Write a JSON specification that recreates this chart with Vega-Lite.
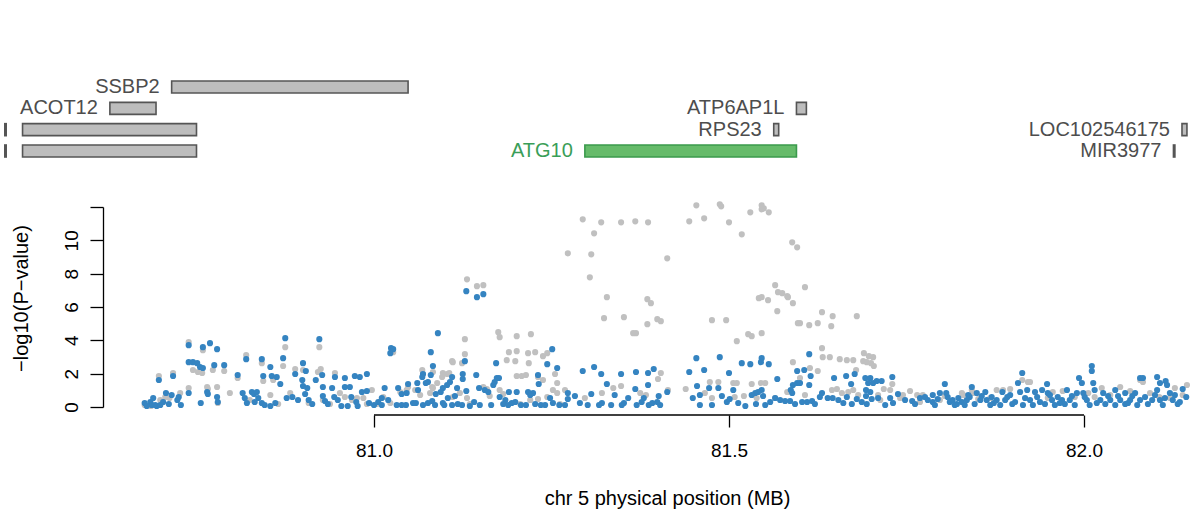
{
  "$schema": "https://vega.github.io/schema/vega-lite/v6.json",
  "width": 1084,
  "height": 200,
  "autosize": {"type": "none"},
  "padding": {"left": 110, "top": 207, "right": 0, "bottom": 105},
  "background": "white",
  "config": {
    "view": {"stroke": null},
    "font": "Liberation Sans",
    "axis": {"grid": false, "labelColor": "black", "titleColor": "black", "tickColor": "black", "domainColor": "black", "labelFont": "Liberation Sans", "titleFont": "Liberation Sans", "titleFontWeight": "normal"}
  },
  "layer": [
    {
      "data": {"values": [
        {"gene": "SSBP2", "start": 80.715, "end": 81.048, "row": 1},
        {"gene": "ACOT12", "start": 80.628, "end": 80.693, "row": 2},
        {"gene": "ATP6AP1L", "start": 81.595, "end": 81.609, "row": 2},
        {"gene": "", "start": 80.505, "end": 80.750, "row": 3},
        {"gene": "RPS23", "start": 81.563, "end": 81.570, "row": 3},
        {"gene": "LOC102546175", "start": 82.138, "end": 82.145, "row": 3},
        {"gene": "", "start": 80.505, "end": 80.750, "row": 4},
        {"gene": "ATG10", "start": 81.297, "end": 81.595, "row": 4},
        {"gene": "MIR3977", "start": 82.126, "end": 82.128, "row": 4},
        {"gene": "", "start": 80.480, "end": 80.482, "row": 3},
        {"gene": "", "start": 80.480, "end": 80.482, "row": 4}
      ]},
      "layer": [
        {
          "mark": {"type": "bar", "orient": "horizontal", "size": 12, "strokeWidth": 1.6},
          "encoding": {
            "x": {"field": "start", "type": "quantitative"},
            "x2": {"field": "end"},
            "y": {"field": "row", "type": "quantitative", "scale": {"domain": [1, 4], "range": [-120, -56], "padding": 0, "nice": false, "zero": false}, "axis": null},
            "fill": {"condition": {"test": "datum.gene === 'ATG10'", "value": "#66bb6a"}, "value": "#bdbdbd"},
            "stroke": {"condition": {"test": "datum.gene === 'ATG10'", "value": "#3b9a4c"}, "value": "#555555"}
          }
        },
        {
          "mark": {"type": "text", "align": "right", "baseline": "middle", "dx": -12, "fontSize": 20, "font": "Liberation Sans"},
          "encoding": {
            "x": {"field": "start", "type": "quantitative"},
            "y": {"field": "row", "type": "quantitative", "axis": null},
            "text": {"field": "gene"},
            "color": {"condition": {"test": "datum.gene === 'ATG10'", "value": "#3a9e58"}, "value": "#4d4d4d"}
          }
        }
      ]
    },
    {
      "layer": [
        {
          "data": {"values": [
{"pos":80.677,"logp":0.12,"cond":"no"},{"pos":80.686,"logp":0.06,"cond":"no"},{"pos":80.697,"logp":1.86,"cond":"no"},{"pos":80.717,"logp":2.04,"cond":"no"},{"pos":80.706,"logp":0.60,"cond":"no"},{"pos":80.712,"logp":0.54,"cond":"no"},{"pos":80.739,"logp":3.89,"cond":"no"},{"pos":80.739,"logp":1.14,"cond":"no"},{"pos":80.745,"logp":2.22,"cond":"no"},{"pos":80.752,"logp":2.10,"cond":"no"},{"pos":80.758,"logp":2.04,"cond":"no"},{"pos":80.759,"logp":3.41,"cond":"no"},{"pos":80.765,"logp":1.20,"cond":"no"},{"pos":80.766,"logp":1.08,"cond":"no"},{"pos":80.773,"logp":2.22,"cond":"no"},{"pos":80.779,"logp":1.20,"cond":"no"},{"pos":80.789,"logp":2.16,"cond":"no"},{"pos":80.780,"logp":0.24,"cond":"no"},{"pos":80.808,"logp":1.74,"cond":"no"},{"pos":80.820,"logp":3.11,"cond":"no"},{"pos":80.842,"logp":2.63,"cond":"no"},{"pos":80.844,"logp":1.56,"cond":"no"},{"pos":80.858,"logp":1.62,"cond":"no"},{"pos":80.872,"logp":2.46,"cond":"no"},{"pos":80.875,"logp":3.59,"cond":"no"},{"pos":80.889,"logp":2.28,"cond":"no"},{"pos":80.900,"logp":2.22,"cond":"no"},{"pos":80.908,"logp":0.24,"cond":"no"},{"pos":80.925,"logp":2.28,"cond":"no"},{"pos":80.921,"logp":2.10,"cond":"no"},{"pos":80.923,"logp":3.59,"cond":"no"},{"pos":80.928,"logp":0.42,"cond":"no"},{"pos":80.945,"logp":2.04,"cond":"no"},{"pos":80.959,"logp":0.60,"cond":"no"},{"pos":80.976,"logp":0.54,"cond":"no"},{"pos":80.985,"logp":0.54,"cond":"no"},{"pos":81.027,"logp":3.29,"cond":"no"},{"pos":81.013,"logp":0.60,"cond":"no"},{"pos":81.023,"logp":0.24,"cond":"no"},{"pos":81.048,"logp":1.20,"cond":"no"},{"pos":81.046,"logp":1.02,"cond":"no"},{"pos":81.068,"logp":2.22,"cond":"no"},{"pos":81.069,"logp":1.98,"cond":"no"},{"pos":81.079,"logp":0.84,"cond":"no"},{"pos":81.082,"logp":1.20,"cond":"no"},{"pos":81.089,"logp":1.44,"cond":"no"},{"pos":81.097,"logp":2.04,"cond":"no"},{"pos":81.106,"logp":2.04,"cond":"no"},{"pos":81.110,"logp":2.75,"cond":"no"},{"pos":81.131,"logp":7.66,"cond":"no"},{"pos":81.145,"logp":7.25,"cond":"no"},{"pos":81.154,"logp":7.31,"cond":"no"},{"pos":80.699,"logp":0.42,"cond":"no"},{"pos":80.825,"logp":0.42,"cond":"no"},{"pos":80.865,"logp":0.18,"cond":"no"},{"pos":80.938,"logp":0.18,"cond":"no"},{"pos":80.969,"logp":0.42,"cond":"no"},{"pos":80.990,"logp":0.18,"cond":"no"},{"pos":81.004,"logp":0.18,"cond":"no"},
{"pos":80.727,"logp":0.84,"cond":"no"},{"pos":80.797,"logp":0.84,"cond":"no"},{"pos":80.854,"logp":0.72,"cond":"no"},{"pos":80.882,"logp":0.84,"cond":"no"},{"pos":80.952,"logp":0.84,"cond":"no"},{"pos":80.997,"logp":1.02,"cond":"no"},{"pos":81.037,"logp":0.90,"cond":"no"},{"pos":81.065,"logp":0.72,"cond":"no"},{"pos":81.121,"logp":0.84,"cond":"no"},{"pos":81.163,"logp":0.66,"cond":"no"},{"pos":81.220,"logp":0.42,"cond":"no"},{"pos":81.269,"logp":1.02,"cond":"no"},{"pos":81.297,"logp":0.54,"cond":"no"},{"pos":81.337,"logp":1.14,"cond":"no"},{"pos":81.375,"logp":0.84,"cond":"no"},{"pos":81.414,"logp":1.02,"cond":"no"},
{"pos":81.128,"logp":4.07,"cond":"no"},{"pos":81.128,"logp":3.17,"cond":"no"},{"pos":81.175,"logp":4.49,"cond":"no"},{"pos":81.177,"logp":4.19,"cond":"no"},{"pos":81.201,"logp":4.25,"cond":"no"},{"pos":81.221,"logp":4.37,"cond":"no"},{"pos":81.190,"logp":3.29,"cond":"no"},{"pos":81.201,"logp":3.35,"cond":"no"},{"pos":81.217,"logp":3.23,"cond":"no"},{"pos":81.227,"logp":3.29,"cond":"no"},{"pos":81.238,"logp":3.05,"cond":"no"},{"pos":81.244,"logp":3.23,"cond":"no"},{"pos":81.187,"logp":2.81,"cond":"no"},{"pos":81.199,"logp":2.75,"cond":"no"},{"pos":81.218,"logp":2.63,"cond":"no"},{"pos":81.111,"logp":2.69,"cond":"no"},{"pos":81.124,"logp":2.63,"cond":"no"},{"pos":81.103,"logp":1.98,"cond":"no"},{"pos":81.096,"logp":1.80,"cond":"no"},{"pos":81.201,"logp":1.86,"cond":"no"},{"pos":81.208,"logp":1.86,"cond":"no"},{"pos":81.214,"logp":1.92,"cond":"no"},{"pos":81.255,"logp":1.98,"cond":"no"},{"pos":81.231,"logp":1.80,"cond":"no"},{"pos":81.238,"logp":1.62,"cond":"no"},{"pos":81.258,"logp":1.44,"cond":"no"},{"pos":81.252,"logp":1.02,"cond":"no"},{"pos":81.258,"logp":0.84,"cond":"no"},{"pos":81.294,"logp":11.26,"cond":"no"},{"pos":81.320,"logp":11.08,"cond":"no"},{"pos":81.348,"logp":11.08,"cond":"no"},{"pos":81.368,"logp":11.14,"cond":"no"},{"pos":81.386,"logp":11.08,"cond":"no"},{"pos":81.310,"logp":10.42,"cond":"no"},{"pos":81.273,"logp":9.22,"cond":"no"},{"pos":81.306,"logp":9.16,"cond":"no"},{"pos":81.413,"logp":8.92,"cond":"no"},{"pos":81.304,"logp":7.78,"cond":"no"},{"pos":81.328,"logp":6.59,"cond":"no"},{"pos":81.385,"logp":6.47,"cond":"no"},{"pos":81.390,"logp":6.23,"cond":"no"},{"pos":81.324,"logp":5.33,"cond":"no"},{"pos":81.352,"logp":5.39,"cond":"no"},{"pos":81.399,"logp":5.27,"cond":"no"},{"pos":81.404,"logp":5.15,"cond":"no"},{"pos":81.385,"logp":4.97,"cond":"no"},{"pos":81.365,"logp":4.43,"cond":"no"},{"pos":81.369,"logp":4.43,"cond":"no"},{"pos":81.321,"logp":0.84,"cond":"no"},{"pos":81.348,"logp":1.26,"cond":"no"},{"pos":81.404,"logp":2.04,"cond":"no"},{"pos":81.400,"logp":1.68,"cond":"no"},{"pos":81.383,"logp":0.72,"cond":"no"},{"pos":81.058,"logp":1.02,"cond":"no"},{"pos":81.083,"logp":2.10,"cond":"no"},{"pos":81.083,"logp":1.14,"cond":"no"},{"pos":81.154,"logp":1.20,"cond":"no"},{"pos":81.159,"logp":1.08,"cond":"no"},{"pos":81.177,"logp":1.02,"cond":"no"},{"pos":81.182,"logp":0.78,"cond":"no"},{"pos":81.111,"logp":0.60,"cond":"no"},{"pos":81.131,"logp":0.54,"cond":"no"},{"pos":81.231,"logp":0.48,"cond":"no"},{"pos":81.244,"logp":0.60,"cond":"no"},{"pos":81.135,"logp":0.18,"cond":"no"},{"pos":81.206,"logp":0.18,"cond":"no"},{"pos":81.262,"logp":0.18,"cond":"no"},
{"pos":81.454,"logp":12.10,"cond":"no"},{"pos":81.487,"logp":12.16,"cond":"no"},{"pos":81.489,"logp":12.04,"cond":"no"},{"pos":81.546,"logp":12.10,"cond":"no"},{"pos":81.546,"logp":11.86,"cond":"no"},{"pos":81.549,"logp":11.92,"cond":"no"},{"pos":81.556,"logp":11.68,"cond":"no"},{"pos":81.530,"logp":11.68,"cond":"no"},{"pos":81.444,"logp":11.14,"cond":"no"},{"pos":81.465,"logp":11.32,"cond":"no"},{"pos":81.500,"logp":11.08,"cond":"no"},{"pos":81.518,"logp":10.36,"cond":"no"},{"pos":81.589,"logp":9.88,"cond":"no"},{"pos":81.596,"logp":9.58,"cond":"no"},{"pos":81.565,"logp":7.31,"cond":"no"},{"pos":81.607,"logp":7.19,"cond":"no"},{"pos":81.569,"logp":6.89,"cond":"no"},{"pos":81.575,"logp":6.83,"cond":"no"},{"pos":81.582,"logp":6.65,"cond":"no"},{"pos":81.583,"logp":6.59,"cond":"no"},{"pos":81.590,"logp":6.23,"cond":"no"},{"pos":81.542,"logp":6.53,"cond":"no"},{"pos":81.546,"logp":6.59,"cond":"no"},{"pos":81.555,"logp":6.41,"cond":"no"},{"pos":81.568,"logp":5.75,"cond":"no"},{"pos":81.631,"logp":5.69,"cond":"no"},{"pos":81.646,"logp":5.45,"cond":"no"},{"pos":81.680,"logp":5.45,"cond":"no"},{"pos":81.476,"logp":5.21,"cond":"no"},{"pos":81.496,"logp":5.21,"cond":"no"},{"pos":81.597,"logp":5.03,"cond":"no"},{"pos":81.600,"logp":5.03,"cond":"no"},{"pos":81.613,"logp":4.91,"cond":"no"},{"pos":81.625,"logp":5.03,"cond":"no"},{"pos":81.644,"logp":4.85,"cond":"no"},{"pos":81.527,"logp":4.37,"cond":"no"},{"pos":81.532,"logp":4.25,"cond":"no"},{"pos":81.546,"logp":4.43,"cond":"no"},{"pos":81.511,"logp":3.95,"cond":"no"},{"pos":81.631,"logp":3.53,"cond":"no"},{"pos":81.632,"logp":2.99,"cond":"no"},{"pos":81.642,"logp":2.99,"cond":"no"},{"pos":81.656,"logp":2.87,"cond":"no"},{"pos":81.666,"logp":2.81,"cond":"no"},{"pos":81.675,"logp":2.81,"cond":"no"},{"pos":81.690,"logp":3.23,"cond":"no"},{"pos":81.697,"logp":3.05,"cond":"no"},{"pos":81.703,"logp":2.99,"cond":"no"},{"pos":81.689,"logp":2.75,"cond":"no"},{"pos":81.694,"logp":2.69,"cond":"no"},{"pos":81.700,"logp":2.63,"cond":"no"},{"pos":81.704,"logp":2.46,"cond":"no"},{"pos":81.590,"logp":2.69,"cond":"no"},{"pos":81.614,"logp":2.34,"cond":"no"},{"pos":81.473,"logp":1.50,"cond":"no"},{"pos":81.485,"logp":1.50,"cond":"no"},{"pos":81.506,"logp":1.44,"cond":"no"},{"pos":81.511,"logp":1.44,"cond":"no"},{"pos":81.532,"logp":1.38,"cond":"no"},{"pos":81.545,"logp":1.44,"cond":"no"},{"pos":81.551,"logp":1.44,"cond":"no"},{"pos":81.645,"logp":1.02,"cond":"no"},{"pos":81.652,"logp":1.08,"cond":"no"},{"pos":81.668,"logp":0.90,"cond":"no"},{"pos":81.675,"logp":1.02,"cond":"no"},{"pos":81.730,"logp":1.38,"cond":"no"},{"pos":81.476,"logp":0.54,"cond":"no"},{"pos":81.508,"logp":0.60,"cond":"no"},{"pos":81.521,"logp":0.66,"cond":"no"},{"pos":81.565,"logp":0.54,"cond":"no"},{"pos":81.607,"logp":0.72,"cond":"no"},{"pos":81.713,"logp":0.42,"cond":"no"},{"pos":81.741,"logp":0.54,"cond":"no"},{"pos":81.769,"logp":0.30,"cond":"no"},{"pos":81.679,"logp":2.22,"cond":"no"},{"pos":81.600,"logp":1.74,"cond":"no"},{"pos":81.625,"logp":2.16,"cond":"no"},
{"pos":81.439,"logp":1.08,"cond":"no"},{"pos":81.466,"logp":0.84,"cond":"no"},{"pos":81.539,"logp":0.54,"cond":"no"},{"pos":81.582,"logp":0.90,"cond":"no"},{"pos":81.659,"logp":0.84,"cond":"no"},{"pos":81.682,"logp":0.72,"cond":"no"},{"pos":81.718,"logp":1.08,"cond":"no"},{"pos":81.755,"logp":0.96,"cond":"no"},
{"pos":82.079,"logp":1.62,"cond":"no"},{"pos":82.083,"logp":1.50,"cond":"no"},{"pos":81.913,"logp":1.62,"cond":"no"},{"pos":81.924,"logp":1.50,"cond":"no"},{"pos":82.107,"logp":0.54,"cond":"no"},{"pos":82.121,"logp":0.54,"cond":"no"},{"pos":82.139,"logp":0.72,"cond":"no"},{"pos":81.710,"logp":0.72,"cond":"no"},{"pos":81.727,"logp":1.02,"cond":"no"},{"pos":81.745,"logp":0.72,"cond":"no"},{"pos":81.765,"logp":0.72,"cond":"no"},{"pos":81.773,"logp":0.72,"cond":"no"},{"pos":81.830,"logp":0.72,"cond":"no"},{"pos":81.842,"logp":1.02,"cond":"no"},{"pos":81.868,"logp":0.54,"cond":"no"},{"pos":81.886,"logp":1.02,"cond":"no"},{"pos":82.051,"logp":1.20,"cond":"no"},{"pos":81.828,"logp":0.84,"cond":"no"},{"pos":81.844,"logp":0.84,"cond":"no"},{"pos":81.877,"logp":1.02,"cond":"no"},{"pos":81.921,"logp":1.50,"cond":"no"},{"pos":82.037,"logp":0.72,"cond":"no"},{"pos":82.106,"logp":0.60,"cond":"no"},{"pos":81.949,"logp":0.54,"cond":"no"},{"pos":81.987,"logp":0.60,"cond":"no"},{"pos":82.015,"logp":0.60,"cond":"no"},{"pos":81.797,"logp":0.42,"cond":"no"},
{"pos":81.804,"logp":0.66,"cond":"no"},{"pos":81.851,"logp":0.48,"cond":"no"},{"pos":81.896,"logp":1.08,"cond":"no"},{"pos":81.956,"logp":0.90,"cond":"no"},{"pos":81.970,"logp":0.96,"cond":"no"},{"pos":82.006,"logp":0.84,"cond":"no"},{"pos":82.025,"logp":1.14,"cond":"no"},{"pos":82.065,"logp":0.96,"cond":"no"},{"pos":82.093,"logp":0.84,"cond":"no"},{"pos":82.128,"logp":1.14,"cond":"no"},{"pos":82.145,"logp":1.32,"cond":"no"},
{"pos":80.677,"logp":0.24,"cond":"yes"},{"pos":80.685,"logp":0.30,"cond":"yes"},{"pos":80.689,"logp":0.54,"cond":"yes"},{"pos":80.687,"logp":0.12,"cond":"yes"},{"pos":80.692,"logp":0.12,"cond":"yes"},{"pos":80.697,"logp":1.62,"cond":"yes"},{"pos":80.703,"logp":0.30,"cond":"yes"},{"pos":80.707,"logp":0.84,"cond":"yes"},{"pos":80.711,"logp":0.18,"cond":"yes"},{"pos":80.715,"logp":0.72,"cond":"yes"},{"pos":80.717,"logp":1.86,"cond":"yes"},{"pos":80.723,"logp":0.42,"cond":"yes"},{"pos":80.725,"logp":0.60,"cond":"yes"},{"pos":80.728,"logp":0.12,"cond":"yes"},{"pos":80.739,"logp":3.71,"cond":"yes"},{"pos":80.739,"logp":0.84,"cond":"yes"},{"pos":80.739,"logp":2.69,"cond":"yes"},{"pos":80.745,"logp":2.69,"cond":"yes"},{"pos":80.751,"logp":2.63,"cond":"yes"},{"pos":80.755,"logp":2.40,"cond":"yes"},{"pos":80.759,"logp":2.34,"cond":"yes"},{"pos":80.759,"logp":3.59,"cond":"yes"},{"pos":80.769,"logp":3.83,"cond":"yes"},{"pos":80.779,"logp":3.47,"cond":"yes"},{"pos":80.775,"logp":2.51,"cond":"yes"},{"pos":80.789,"logp":2.51,"cond":"yes"},{"pos":80.756,"logp":0.24,"cond":"yes"},{"pos":80.765,"logp":0.90,"cond":"yes"},{"pos":80.766,"logp":0.78,"cond":"yes"},{"pos":80.779,"logp":0.60,"cond":"yes"},{"pos":80.780,"logp":0.30,"cond":"yes"},{"pos":80.808,"logp":1.92,"cond":"yes"},{"pos":80.820,"logp":2.87,"cond":"yes"},{"pos":80.815,"logp":0.84,"cond":"yes"},{"pos":80.818,"logp":0.54,"cond":"yes"},{"pos":80.821,"logp":0.24,"cond":"yes"},{"pos":80.828,"logp":0.90,"cond":"yes"},{"pos":80.831,"logp":0.78,"cond":"yes"},{"pos":80.835,"logp":0.90,"cond":"yes"},{"pos":80.837,"logp":0.54,"cond":"yes"},{"pos":80.842,"logp":0.24,"cond":"yes"},{"pos":80.846,"logp":0.12,"cond":"yes"},{"pos":80.854,"logp":0.06,"cond":"yes"},{"pos":80.842,"logp":2.87,"cond":"yes"},{"pos":80.844,"logp":1.86,"cond":"yes"},{"pos":80.854,"logp":2.40,"cond":"yes"},{"pos":80.856,"logp":1.86,"cond":"yes"},{"pos":80.863,"logp":1.80,"cond":"yes"},{"pos":80.868,"logp":1.38,"cond":"yes"},{"pos":80.872,"logp":2.93,"cond":"yes"},{"pos":80.875,"logp":4.13,"cond":"yes"},{"pos":80.877,"logp":0.54,"cond":"yes"},{"pos":80.885,"logp":0.60,"cond":"yes"},{"pos":80.889,"logp":1.98,"cond":"yes"},{"pos":80.900,"logp":2.63,"cond":"yes"},{"pos":80.904,"logp":2.16,"cond":"yes"},{"pos":80.899,"logp":1.62,"cond":"yes"},{"pos":80.900,"logp":1.26,"cond":"yes"},{"pos":80.906,"logp":1.14,"cond":"yes"},{"pos":80.903,"logp":0.78,"cond":"yes"},{"pos":80.908,"logp":0.42,"cond":"yes"},{"pos":80.918,"logp":1.62,"cond":"yes"},{"pos":80.923,"logp":4.07,"cond":"yes"},{"pos":80.927,"logp":1.92,"cond":"yes"},{"pos":80.928,"logp":1.20,"cond":"yes"},{"pos":80.928,"logp":0.66,"cond":"yes"},{"pos":80.931,"logp":0.36,"cond":"yes"},{"pos":80.941,"logp":1.14,"cond":"yes"},{"pos":80.945,"logp":1.80,"cond":"yes"},{"pos":80.944,"logp":0.60,"cond":"yes"},{"pos":80.954,"logp":0.06,"cond":"yes"},{"pos":80.959,"logp":1.74,"cond":"yes"},{"pos":80.959,"logp":1.20,"cond":"yes"},{"pos":80.966,"logp":1.20,"cond":"yes"},{"pos":80.963,"logp":0.06,"cond":"yes"},{"pos":80.968,"logp":0.60,"cond":"yes"},{"pos":80.973,"logp":1.86,"cond":"yes"},{"pos":80.980,"logp":1.80,"cond":"yes"},{"pos":80.975,"logp":0.30,"cond":"yes"},{"pos":80.977,"logp":0.06,"cond":"yes"},{"pos":80.983,"logp":0.90,"cond":"yes"},{"pos":80.990,"logp":1.98,"cond":"yes"},{"pos":80.990,"logp":0.96,"cond":"yes"},{"pos":80.993,"logp":0.24,"cond":"yes"},{"pos":81.000,"logp":0.12,"cond":"yes"},{"pos":81.006,"logp":0.30,"cond":"yes"},{"pos":81.011,"logp":0.54,"cond":"yes"},{"pos":81.015,"logp":1.14,"cond":"yes"},{"pos":81.024,"logp":3.53,"cond":"yes"},{"pos":81.027,"logp":3.47,"cond":"yes"},{"pos":81.023,"logp":3.23,"cond":"yes"},{"pos":81.034,"logp":1.14,"cond":"yes"},{"pos":81.032,"logp":0.12,"cond":"yes"},{"pos":80.680,"logp":0.06,"cond":"yes"},{"pos":80.694,"logp":0.06,"cond":"yes"},{"pos":80.699,"logp":0.12,"cond":"yes"},
{"pos":80.832,"logp":0.30,"cond":"yes"},{"pos":80.861,"logp":0.24,"cond":"yes"},{"pos":80.893,"logp":0.42,"cond":"yes"},{"pos":80.913,"logp":0.18,"cond":"yes"},{"pos":80.935,"logp":0.18,"cond":"yes"},{"pos":80.949,"logp":0.42,"cond":"yes"},{"pos":81.011,"logp":0.12,"cond":"yes"},{"pos":81.020,"logp":0.42,"cond":"yes"},{"pos":81.114,"logp":0.66,"cond":"yes"},{"pos":81.141,"logp":0.30,"cond":"yes"},{"pos":81.185,"logp":0.42,"cond":"yes"},{"pos":81.199,"logp":0.30,"cond":"yes"},{"pos":81.248,"logp":0.54,"cond":"yes"},{"pos":81.283,"logp":0.66,"cond":"yes"},{"pos":81.290,"logp":0.24,"cond":"yes"},{"pos":81.339,"logp":0.72,"cond":"yes"},{"pos":81.358,"logp":0.54,"cond":"yes"},{"pos":81.380,"logp":0.54,"cond":"yes"},{"pos":81.403,"logp":0.12,"cond":"yes"},
{"pos":81.039,"logp":0.12,"cond":"yes"},{"pos":81.048,"logp":1.38,"cond":"yes"},{"pos":81.046,"logp":0.84,"cond":"yes"},{"pos":81.039,"logp":0.78,"cond":"yes"},{"pos":81.055,"logp":0.24,"cond":"yes"},{"pos":81.059,"logp":0.24,"cond":"yes"},{"pos":81.062,"logp":1.02,"cond":"yes"},{"pos":81.061,"logp":1.44,"cond":"yes"},{"pos":81.069,"logp":1.98,"cond":"yes"},{"pos":81.068,"logp":1.80,"cond":"yes"},{"pos":81.073,"logp":1.44,"cond":"yes"},{"pos":81.076,"logp":1.50,"cond":"yes"},{"pos":81.080,"logp":1.92,"cond":"yes"},{"pos":81.069,"logp":0.12,"cond":"yes"},{"pos":81.076,"logp":0.24,"cond":"yes"},{"pos":81.082,"logp":0.36,"cond":"yes"},{"pos":81.087,"logp":0.78,"cond":"yes"},{"pos":81.086,"logp":0.12,"cond":"yes"},{"pos":81.083,"logp":2.46,"cond":"yes"},{"pos":81.080,"logp":3.29,"cond":"yes"},{"pos":81.090,"logp":4.43,"cond":"yes"},{"pos":81.097,"logp":0.24,"cond":"yes"},{"pos":81.104,"logp":0.54,"cond":"yes"},{"pos":81.097,"logp":1.14,"cond":"yes"},{"pos":81.094,"logp":0.90,"cond":"yes"},{"pos":81.103,"logp":1.32,"cond":"yes"},{"pos":81.107,"logp":1.50,"cond":"yes"},{"pos":81.110,"logp":1.80,"cond":"yes"},{"pos":81.117,"logp":1.14,"cond":"yes"},{"pos":81.125,"logp":1.98,"cond":"yes"},{"pos":81.125,"logp":1.68,"cond":"yes"},{"pos":81.130,"logp":0.96,"cond":"yes"},{"pos":81.128,"logp":2.75,"cond":"yes"},{"pos":81.130,"logp":6.95,"cond":"yes"},{"pos":81.145,"logp":6.59,"cond":"yes"},{"pos":81.154,"logp":6.77,"cond":"yes"},{"pos":81.144,"logp":1.92,"cond":"yes"},{"pos":81.148,"logp":1.14,"cond":"yes"},{"pos":81.156,"logp":1.02,"cond":"yes"},{"pos":81.161,"logp":0.90,"cond":"yes"},{"pos":81.168,"logp":1.32,"cond":"yes"},{"pos":81.170,"logp":1.50,"cond":"yes"},{"pos":81.173,"logp":1.74,"cond":"yes"},{"pos":81.176,"logp":1.74,"cond":"yes"},{"pos":81.172,"logp":2.63,"cond":"yes"},{"pos":81.177,"logp":0.60,"cond":"yes"},{"pos":81.190,"logp":0.90,"cond":"yes"},{"pos":81.201,"logp":0.90,"cond":"yes"},{"pos":81.217,"logp":0.90,"cond":"yes"},{"pos":81.224,"logp":0.84,"cond":"yes"},{"pos":81.220,"logp":0.72,"cond":"yes"},{"pos":81.231,"logp":1.92,"cond":"yes"},{"pos":81.232,"logp":1.38,"cond":"yes"},{"pos":81.244,"logp":2.57,"cond":"yes"},{"pos":81.251,"logp":3.47,"cond":"yes"},{"pos":81.258,"logp":2.34,"cond":"yes"},{"pos":81.273,"logp":0.84,"cond":"yes"},{"pos":81.273,"logp":0.48,"cond":"yes"},{"pos":81.294,"logp":2.16,"cond":"yes"},{"pos":81.306,"logp":0.78,"cond":"yes"},{"pos":81.310,"logp":2.40,"cond":"yes"},{"pos":81.320,"logp":1.98,"cond":"yes"},{"pos":81.328,"logp":1.38,"cond":"yes"},{"pos":81.348,"logp":1.98,"cond":"yes"},{"pos":81.369,"logp":2.10,"cond":"yes"},{"pos":81.368,"logp":1.08,"cond":"yes"},{"pos":81.386,"logp":2.04,"cond":"yes"},{"pos":81.386,"logp":1.32,"cond":"yes"},{"pos":81.394,"logp":2.28,"cond":"yes"},{"pos":81.413,"logp":0.90,"cond":"yes"},{"pos":81.401,"logp":0.66,"cond":"yes"},{"pos":81.399,"logp":0.30,"cond":"yes"},{"pos":81.045,"logp":0.12,"cond":"yes"},{"pos":81.099,"logp":0.12,"cond":"yes"},{"pos":81.110,"logp":0.12,"cond":"yes"},{"pos":81.118,"logp":0.18,"cond":"yes"},{"pos":81.124,"logp":0.12,"cond":"yes"},{"pos":81.135,"logp":0.06,"cond":"yes"},{"pos":81.149,"logp":0.12,"cond":"yes"},{"pos":81.165,"logp":0.12,"cond":"yes"},{"pos":81.182,"logp":0.18,"cond":"yes"},{"pos":81.189,"logp":0.12,"cond":"yes"},{"pos":81.194,"logp":0.24,"cond":"yes"},{"pos":81.207,"logp":0.12,"cond":"yes"},{"pos":81.214,"logp":0.12,"cond":"yes"},{"pos":81.227,"logp":0.18,"cond":"yes"},{"pos":81.235,"logp":0.12,"cond":"yes"},{"pos":81.241,"logp":0.12,"cond":"yes"},{"pos":81.252,"logp":0.24,"cond":"yes"},{"pos":81.261,"logp":0.12,"cond":"yes"},{"pos":81.269,"logp":0.12,"cond":"yes"},{"pos":81.301,"logp":0.12,"cond":"yes"},{"pos":81.317,"logp":0.12,"cond":"yes"},{"pos":81.321,"logp":0.24,"cond":"yes"},{"pos":81.334,"logp":0.12,"cond":"yes"},{"pos":81.349,"logp":0.12,"cond":"yes"},{"pos":81.352,"logp":0.24,"cond":"yes"},{"pos":81.370,"logp":0.12,"cond":"yes"},{"pos":81.377,"logp":0.30,"cond":"yes"},{"pos":81.387,"logp":0.12,"cond":"yes"},{"pos":81.392,"logp":0.24,"cond":"yes"},
{"pos":81.454,"logp":2.93,"cond":"yes"},{"pos":81.487,"logp":2.99,"cond":"yes"},{"pos":81.546,"logp":2.93,"cond":"yes"},{"pos":81.545,"logp":2.69,"cond":"yes"},{"pos":81.556,"logp":2.57,"cond":"yes"},{"pos":81.518,"logp":2.63,"cond":"yes"},{"pos":81.530,"logp":2.57,"cond":"yes"},{"pos":81.613,"logp":3.17,"cond":"yes"},{"pos":81.444,"logp":2.10,"cond":"yes"},{"pos":81.465,"logp":2.22,"cond":"yes"},{"pos":81.500,"logp":2.04,"cond":"yes"},{"pos":81.568,"logp":1.68,"cond":"yes"},{"pos":81.596,"logp":2.16,"cond":"yes"},{"pos":81.606,"logp":2.22,"cond":"yes"},{"pos":81.615,"logp":1.86,"cond":"yes"},{"pos":81.648,"logp":1.74,"cond":"yes"},{"pos":81.665,"logp":1.86,"cond":"yes"},{"pos":81.677,"logp":1.98,"cond":"yes"},{"pos":81.672,"logp":1.38,"cond":"yes"},{"pos":81.692,"logp":1.74,"cond":"yes"},{"pos":81.699,"logp":1.74,"cond":"yes"},{"pos":81.696,"logp":1.44,"cond":"yes"},{"pos":81.703,"logp":1.44,"cond":"yes"},{"pos":81.708,"logp":1.56,"cond":"yes"},{"pos":81.715,"logp":1.56,"cond":"yes"},{"pos":81.730,"logp":1.80,"cond":"yes"},{"pos":81.455,"logp":1.26,"cond":"yes"},{"pos":81.472,"logp":1.14,"cond":"yes"},{"pos":81.485,"logp":1.14,"cond":"yes"},{"pos":81.506,"logp":1.02,"cond":"yes"},{"pos":81.613,"logp":1.32,"cond":"yes"},{"pos":81.590,"logp":1.32,"cond":"yes"},{"pos":81.596,"logp":1.44,"cond":"yes"},{"pos":81.600,"logp":1.44,"cond":"yes"},{"pos":81.587,"logp":1.02,"cond":"yes"},{"pos":81.589,"logp":0.84,"cond":"yes"},{"pos":81.546,"logp":1.02,"cond":"yes"},{"pos":81.541,"logp":0.90,"cond":"yes"},{"pos":81.537,"logp":0.84,"cond":"yes"},{"pos":81.532,"logp":0.72,"cond":"yes"},{"pos":81.548,"logp":0.66,"cond":"yes"},{"pos":81.693,"logp":1.02,"cond":"yes"},{"pos":81.699,"logp":0.90,"cond":"yes"},{"pos":81.693,"logp":0.66,"cond":"yes"},{"pos":81.710,"logp":0.54,"cond":"yes"},{"pos":81.449,"logp":0.54,"cond":"yes"},{"pos":81.459,"logp":0.12,"cond":"yes"},{"pos":81.476,"logp":0.12,"cond":"yes"},{"pos":81.497,"logp":0.30,"cond":"yes"},{"pos":81.501,"logp":0.48,"cond":"yes"},{"pos":81.523,"logp":0.06,"cond":"yes"},{"pos":81.551,"logp":0.12,"cond":"yes"},{"pos":81.565,"logp":0.54,"cond":"yes"},{"pos":81.572,"logp":0.42,"cond":"yes"},{"pos":81.579,"logp":0.36,"cond":"yes"},{"pos":81.586,"logp":0.36,"cond":"yes"},{"pos":81.603,"logp":0.30,"cond":"yes"},{"pos":81.610,"logp":0.30,"cond":"yes"},{"pos":81.617,"logp":0.36,"cond":"yes"},{"pos":81.628,"logp":0.60,"cond":"yes"},{"pos":81.631,"logp":0.84,"cond":"yes"},{"pos":81.639,"logp":0.54,"cond":"yes"},{"pos":81.646,"logp":0.54,"cond":"yes"},{"pos":81.654,"logp":0.42,"cond":"yes"},{"pos":81.666,"logp":0.60,"cond":"yes"},{"pos":81.680,"logp":0.48,"cond":"yes"},{"pos":81.687,"logp":0.30,"cond":"yes"},{"pos":81.701,"logp":0.48,"cond":"yes"},{"pos":81.720,"logp":0.12,"cond":"yes"},{"pos":81.731,"logp":0.24,"cond":"yes"},{"pos":81.738,"logp":0.78,"cond":"yes"},{"pos":81.748,"logp":0.42,"cond":"yes"},{"pos":81.758,"logp":0.36,"cond":"yes"},{"pos":81.769,"logp":0.54,"cond":"yes"},{"pos":81.780,"logp":0.42,"cond":"yes"},{"pos":81.787,"logp":0.30,"cond":"yes"},
{"pos":81.459,"logp":0.72,"cond":"yes"},{"pos":81.490,"logp":0.66,"cond":"yes"},{"pos":81.513,"logp":0.24,"cond":"yes"},{"pos":81.538,"logp":0.18,"cond":"yes"},{"pos":81.558,"logp":0.30,"cond":"yes"},{"pos":81.593,"logp":0.18,"cond":"yes"},{"pos":81.621,"logp":0.18,"cond":"yes"},{"pos":81.661,"logp":0.24,"cond":"yes"},{"pos":81.673,"logp":0.18,"cond":"yes"},{"pos":81.694,"logp":0.18,"cond":"yes"},{"pos":81.727,"logp":0.54,"cond":"yes"},{"pos":81.762,"logp":0.18,"cond":"yes"},{"pos":81.776,"logp":0.60,"cond":"yes"},
{"pos":81.787,"logp":0.72,"cond":"yes"},{"pos":81.797,"logp":0.84,"cond":"yes"},{"pos":81.804,"logp":1.38,"cond":"yes"},{"pos":81.806,"logp":0.84,"cond":"yes"},{"pos":81.811,"logp":0.30,"cond":"yes"},{"pos":81.815,"logp":0.42,"cond":"yes"},{"pos":81.823,"logp":0.54,"cond":"yes"},{"pos":81.828,"logp":0.30,"cond":"yes"},{"pos":81.835,"logp":0.42,"cond":"yes"},{"pos":81.839,"logp":0.60,"cond":"yes"},{"pos":81.842,"logp":1.20,"cond":"yes"},{"pos":81.849,"logp":0.84,"cond":"yes"},{"pos":81.854,"logp":0.42,"cond":"yes"},{"pos":81.861,"logp":0.90,"cond":"yes"},{"pos":81.863,"logp":0.42,"cond":"yes"},{"pos":81.870,"logp":0.60,"cond":"yes"},{"pos":81.877,"logp":0.42,"cond":"yes"},{"pos":81.885,"logp":0.90,"cond":"yes"},{"pos":81.889,"logp":0.42,"cond":"yes"},{"pos":81.896,"logp":0.72,"cond":"yes"},{"pos":81.907,"logp":1.44,"cond":"yes"},{"pos":81.910,"logp":0.90,"cond":"yes"},{"pos":81.913,"logp":2.04,"cond":"yes"},{"pos":81.917,"logp":0.54,"cond":"yes"},{"pos":81.920,"logp":1.02,"cond":"yes"},{"pos":81.924,"logp":0.42,"cond":"yes"},{"pos":81.934,"logp":0.60,"cond":"yes"},{"pos":81.941,"logp":1.02,"cond":"yes"},{"pos":81.948,"logp":1.38,"cond":"yes"},{"pos":81.949,"logp":0.84,"cond":"yes"},{"pos":81.955,"logp":0.42,"cond":"yes"},{"pos":81.963,"logp":0.60,"cond":"yes"},{"pos":81.969,"logp":0.42,"cond":"yes"},{"pos":81.976,"logp":1.02,"cond":"yes"},{"pos":81.980,"logp":0.42,"cond":"yes"},{"pos":81.990,"logp":0.84,"cond":"yes"},{"pos":81.993,"logp":1.74,"cond":"yes"},{"pos":81.997,"logp":1.44,"cond":"yes"},{"pos":81.999,"logp":0.84,"cond":"yes"},{"pos":82.004,"logp":0.42,"cond":"yes"},{"pos":82.011,"logp":2.46,"cond":"yes"},{"pos":82.011,"logp":2.16,"cond":"yes"},{"pos":82.013,"logp":1.44,"cond":"yes"},{"pos":82.015,"logp":1.02,"cond":"yes"},{"pos":82.023,"logp":0.42,"cond":"yes"},{"pos":82.027,"logp":0.84,"cond":"yes"},{"pos":82.037,"logp":0.42,"cond":"yes"},{"pos":82.044,"logp":1.02,"cond":"yes"},{"pos":82.051,"logp":0.42,"cond":"yes"},{"pos":82.058,"logp":0.84,"cond":"yes"},{"pos":82.065,"logp":0.42,"cond":"yes"},{"pos":82.072,"logp":0.84,"cond":"yes"},{"pos":82.079,"logp":0.42,"cond":"yes"},{"pos":82.079,"logp":1.74,"cond":"yes"},{"pos":82.083,"logp":1.74,"cond":"yes"},{"pos":82.096,"logp":0.42,"cond":"yes"},{"pos":82.103,"logp":1.80,"cond":"yes"},{"pos":82.107,"logp":1.44,"cond":"yes"},{"pos":82.103,"logp":1.02,"cond":"yes"},{"pos":82.107,"logp":0.42,"cond":"yes"},{"pos":82.115,"logp":1.56,"cond":"yes"},{"pos":82.117,"logp":1.32,"cond":"yes"},{"pos":82.121,"logp":0.84,"cond":"yes"},{"pos":82.125,"logp":0.42,"cond":"yes"},{"pos":82.139,"logp":1.08,"cond":"yes"},{"pos":81.790,"logp":0.12,"cond":"yes"},{"pos":81.818,"logp":0.12,"cond":"yes"},{"pos":81.832,"logp":0.12,"cond":"yes"},{"pos":81.846,"logp":0.18,"cond":"yes"},{"pos":81.868,"logp":0.12,"cond":"yes"},{"pos":81.882,"logp":0.12,"cond":"yes"},{"pos":81.899,"logp":0.18,"cond":"yes"},{"pos":81.914,"logp":0.12,"cond":"yes"},{"pos":81.928,"logp":0.12,"cond":"yes"},{"pos":81.945,"logp":0.18,"cond":"yes"},{"pos":81.959,"logp":0.12,"cond":"yes"},{"pos":81.973,"logp":0.18,"cond":"yes"},{"pos":81.987,"logp":0.12,"cond":"yes"},{"pos":82.008,"logp":0.12,"cond":"yes"},{"pos":82.030,"logp":0.18,"cond":"yes"},{"pos":82.044,"logp":0.12,"cond":"yes"},{"pos":82.058,"logp":0.18,"cond":"yes"},{"pos":82.075,"logp":0.12,"cond":"yes"},{"pos":82.090,"logp":0.18,"cond":"yes"},{"pos":82.111,"logp":0.12,"cond":"yes"},{"pos":82.132,"logp":0.18,"cond":"yes"},
{"pos":81.794,"logp":0.48,"cond":"yes"},{"pos":81.808,"logp":0.60,"cond":"yes"},{"pos":81.821,"logp":0.18,"cond":"yes"},{"pos":81.837,"logp":0.72,"cond":"yes"},{"pos":81.856,"logp":0.66,"cond":"yes"},{"pos":81.873,"logp":0.24,"cond":"yes"},{"pos":81.892,"logp":0.60,"cond":"yes"},{"pos":81.903,"logp":0.30,"cond":"yes"},{"pos":81.931,"logp":0.90,"cond":"yes"},{"pos":81.938,"logp":0.30,"cond":"yes"},{"pos":81.952,"logp":0.72,"cond":"yes"},{"pos":81.966,"logp":0.24,"cond":"yes"},{"pos":81.983,"logp":0.66,"cond":"yes"},{"pos":82.001,"logp":0.60,"cond":"yes"},{"pos":82.018,"logp":0.24,"cond":"yes"},{"pos":82.034,"logp":0.66,"cond":"yes"},{"pos":82.048,"logp":0.66,"cond":"yes"},{"pos":82.062,"logp":0.24,"cond":"yes"},{"pos":82.068,"logp":0.66,"cond":"yes"},{"pos":82.086,"logp":0.60,"cond":"yes"},{"pos":82.100,"logp":0.72,"cond":"yes"},{"pos":82.114,"logp":0.54,"cond":"yes"},{"pos":82.128,"logp":0.72,"cond":"yes"},{"pos":82.135,"logp":0.30,"cond":"yes"},{"pos":82.144,"logp":0.60,"cond":"yes"}
          ]},
          "mark": {"type": "circle", "size": 38, "opacity": 1},
          "encoding": {
            "x": {
              "field": "pos", "type": "quantitative",
              "scale": {"domain": [80.62817, 82.15493], "nice": false, "zero": false},
              "axis": {
                "title": "chr 5 physical position (MB)",
                "values": [81, 81.5, 82], "format": ".1f",
                "domain": false, "offset": 8, "tickSize": 12, "tickWidth": 1.3,
                "labelFontSize": 19, "labelPadding": 14, "labelFlush": false,
                "titleFontSize": 20, "titleX": 557, "titleY": 89, "titleBaseline": "alphabetic", "titleAlign": "center", "titleAnchor": null
              }
            },
            "y": {
              "field": "logp", "type": "quantitative",
              "scale": {"domain": [0, 12], "nice": false, "zero": false},
              "axis": {
                "title": "−log10(P−value)",
                "values": [0, 2, 4, 6, 8, 10, 12], "tickCount": 20, "format": "d",
                "labelExpr": "datum.value == 12 ? '' : datum.label",
                "offset": 7, "tickSize": 13, "tickWidth": 1.3, "domainWidth": 1.3,
                "labelAngle": -90, "labelAlign": "center", "labelBaseline": "alphabetic", "labelPadding": 13,
                "labelFontSize": 19, "labelFlush": false, "labelOverlap": false,
                "titleFontSize": 20, "titleAngle": -90, "titleX": -76, "titleY": 91, "titleBaseline": "alphabetic", "titleAlign": "center"
              }
            },
            "color": {"field": "cond", "type": "nominal", "scale": {"domain": ["no", "yes"], "range": ["#c0c0c0", "#3584c1"]}, "legend": null}
          }
        },
        {
          "data": {"values": [{"from": 81, "to": 82}]},
          "mark": {"type": "rule", "color": "black", "strokeWidth": 1.3, "yOffset": 8},
          "encoding": {
            "x": {"field": "from", "type": "quantitative"},
            "x2": {"field": "to"},
            "y": {"datum": 0}
          }
        }
      ]
    }
  ],
  "resolve": {"scale": {"y": "independent"}}
}
